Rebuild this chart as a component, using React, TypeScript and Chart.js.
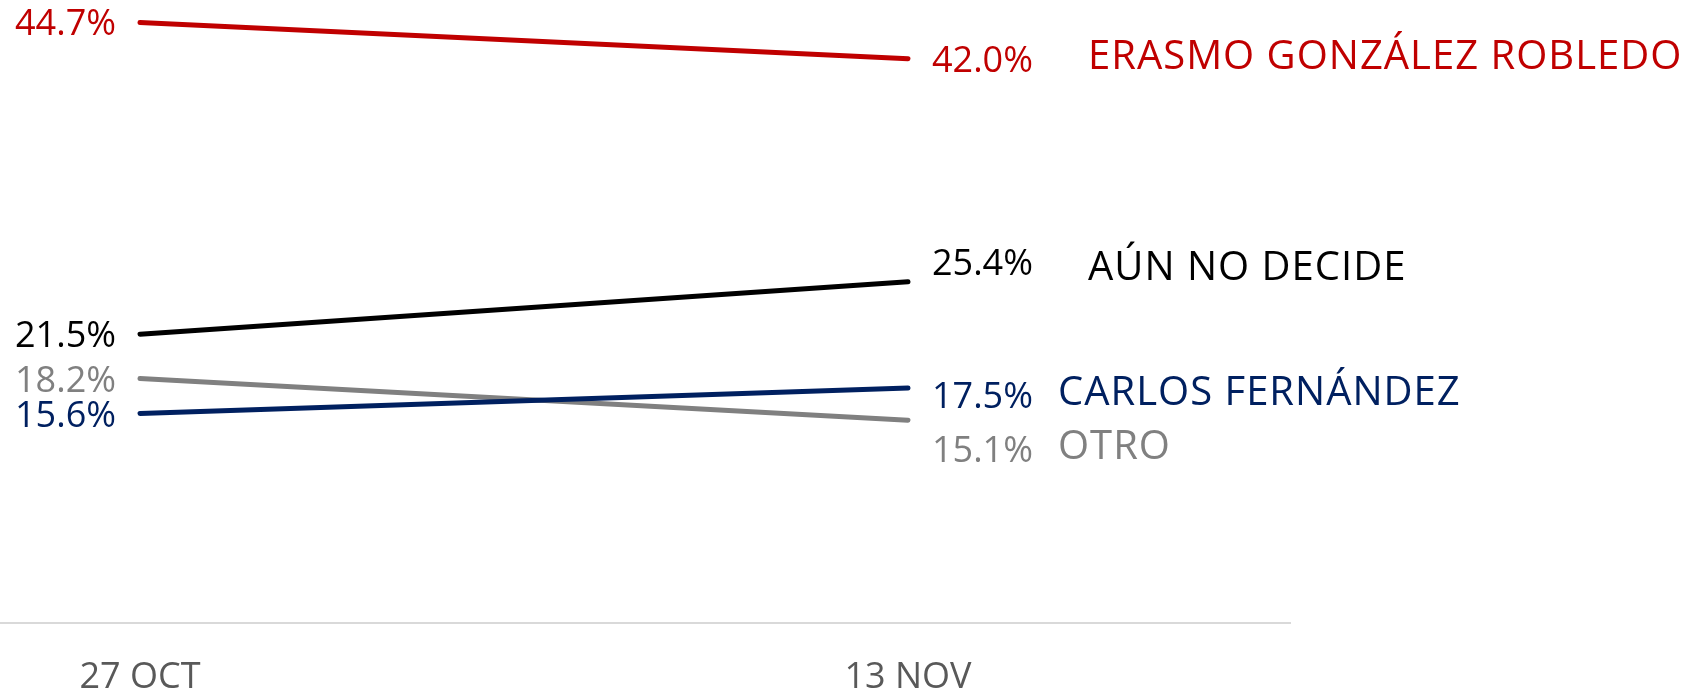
import React, { useEffect, useRef } from "react";
import { Chart, registerables } from "chart.js";

Chart.register(...registerables);

// ---- data ----
const categories = ["27 OCT", "13 NOV"];
const seriesNames = ["ERASMO GONZÁLEZ ROBLEDO", "AÚN NO DECIDE", "CARLOS FERNÁNDEZ", "OTRO"];
const erasmo = [44.7, 42.0];
const aunNoDecide = [21.5, 25.4];
const carlos = [15.6, 17.5];
const otro = [18.2, 15.1];
const series = [erasmo, aunNoDecide, carlos, otro];

// ---- styles ----
const colors = ["#c00000", "#000000", "#002060", "#808080"];
const FONT = "'Open Sans', 'DejaVu Sans', sans-serif";
const leftValueDy = [13, 13, 14, 14];
const rightValueDy = [13, -7, 20, 42];
const nameDy = [10, -2, 17, 39];
const nameDx = [180, 180, 150, 150];

const labelPlugin = {
  id: "endLabels",
  afterDatasetsDraw(chart: any) {
    const ctx = chart.ctx;
    ctx.save();
    chart.data.datasets.forEach((ds: any, i: number) => {
      const meta = chart.getDatasetMeta(i);
      const p0 = meta.data[0];
      const p1 = meta.data[1];
      const vals = series[i];
      ctx.fillStyle = colors[i];
      ctx.textBaseline = "alphabetic";
      ctx.font = `400 36px ${FONT}`;
      (ctx as any).letterSpacing = "0px";
      ctx.textAlign = "right";
      ctx.fillText(vals[0].toFixed(1) + "%", p0.x - 24, p0.y + leftValueDy[i]);
      ctx.textAlign = "left";
      ctx.fillText(vals[1].toFixed(1) + "%", p1.x + 24, p1.y + rightValueDy[i]);
      ctx.font = `400 40px ${FONT}`;
      (ctx as any).letterSpacing = "1px";
      ctx.fillText(seriesNames[i], p1.x + nameDx[i], p1.y + nameDy[i]);
      (ctx as any).letterSpacing = "0px";
    });
    ctx.restore();
  },
};

export default function App() {
  const ref = useRef<HTMLCanvasElement | null>(null);
  useEffect(() => {
    document.body.style.margin = "0";
    const chart = new Chart(ref.current as HTMLCanvasElement, {
      type: "line",
      data: {
        datasets: series.map((s, i) => ({
          label: seriesNames[i],
          data: s.map((v, j) => ({ x: j, y: v })),
          borderColor: colors[i],
          backgroundColor: colors[i],
          borderWidth: 5,
          borderCapStyle: "round",
          pointRadius: 0,
          tension: 0,
          clip: false,
        })),
      },
      options: {
        animation: false,
        responsive: false,
        maintainAspectRatio: false,
        layout: { padding: { top: 5, left: 0, right: 406, bottom: 0 } },
        plugins: { legend: { display: false }, tooltip: { enabled: false } },
        scales: {
          x: {
            type: "linear",
            min: -0.18229,
            max: 1.4974,
            afterBuildTicks: (scale: any) => {
              scale.ticks = categories.map((_, i) => ({ value: i }));
            },
            afterFit: (scale: any) => {
              scale.height = 69;
            },
            grid: { display: false, drawTicks: false },
            border: { display: true, color: "#d9d9d9", width: 2 },
            ticks: {
              padding: 37,
              color: "#595959",
              font: { family: FONT, size: 36, lineHeight: 1.0 },
              maxRotation: 0,
              autoSkip: false,
              callback: (v: any) => categories[Number(v)] ?? "",
            },
          },
          y: { display: false, min: 0, max: 46 },
        },
      },
      plugins: [labelPlugin],
    } as any);
    return () => chart.destroy();
  }, []);
  return (
    <div style={{ position: "absolute", left: 0, top: 0, width: 1696, height: 692 }}>
      <canvas ref={ref} width={1696} height={692} style={{ width: 1696, height: 692 }} />
    </div>
  );
}
